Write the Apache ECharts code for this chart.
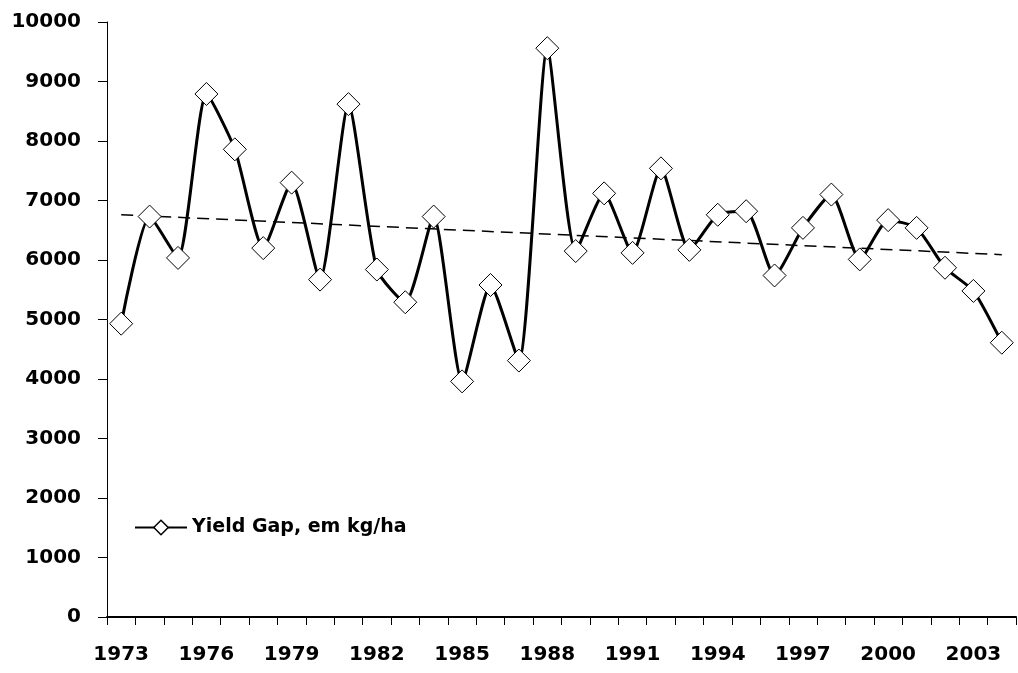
<!DOCTYPE html>
<html>
<head>
<meta charset="utf-8">
<script src="https://cdn.jsdelivr.net/npm/echarts@6/dist/echarts.min.js"></script>
<style>
  html, body { margin: 0; padding: 0; background: #fff; }
  #chart { width: 1018px; height: 673px; }
</style>
</head>
<body>
<div id="chart"></div>
<script>
// Years on the category axis
const years = [
  '1973','1974','1975','1976','1977','1978','1979','1980','1981','1982',
  '1983','1984','1985','1986','1987','1988','1989','1990','1991','1992',
  '1993','1994','1995','1996','1997','1998','1999','2000','2001','2002',
  '2003','2004'
];

// Yield gap, kg/ha
const yieldGap = [
  4930, 6730, 6035, 8790, 7860, 6200, 7300, 5670, 8620, 5840,
  5290, 6730, 3960, 5580, 4310, 9560, 6150, 7120, 6120, 7540,
  6170, 6760, 6820, 5740, 6540, 7100, 6010, 6670, 6540, 5870,
  5480, 4610
];

// Linear trend: values at the first and last year
const trendStart = 6760;
const trendEnd = 6090;

const seriesName = 'Yield Gap, em kg/ha';
const trendData = years.map((_, i) =>
  i === 0 ? trendStart : (i === years.length - 1 ? trendEnd : null));

const font = 'DejaVu Sans';
const chart = echarts.init(document.getElementById('chart'), null, { renderer: 'canvas' });

chart.setOption({
  animation: false,
  backgroundColor: '#ffffff',
  grid: { left: 107, right: 2, top: 22, bottom: 56, containLabel: false },
  legend: {
    data: [{ name: seriesName, itemStyle: { borderWidth: 1.5 } }],
    left: 129,
    top: 513,
    itemWidth: 52,
    itemHeight: 18,
    itemGap: 4,
    textStyle: { fontFamily: font, fontWeight: 'bold', fontSize: 19, color: '#000' }
  },
  xAxis: {
    type: 'category',
    data: years,
    boundaryGap: true,
    axisLine: { lineStyle: { color: '#000', width: 2 } },
    axisTick: { show: true, interval: 0, length: 8, lineStyle: { color: '#000', width: 1 } },
    axisLabel: {
      interval: 2,
      margin: 28,
      color: '#000',
      fontFamily: font,
      fontWeight: 'bold',
      fontSize: 20
    },
    splitLine: { show: false }
  },
  yAxis: {
    type: 'value',
    min: 0,
    max: 10000,
    interval: 1000,
    axisLine: { show: true, lineStyle: { color: '#000', width: 1 } },
    axisTick: { show: true, length: 9, lineStyle: { color: '#000', width: 1 } },
    axisLabel: {
      margin: 26,
      color: '#000',
      fontFamily: font,
      fontWeight: 'bold',
      fontSize: 20,
      formatter: (v) => String(v)
    },
    splitLine: { show: false }
  },
  series: [
    {
      name: 'trend',
      type: 'line',
      data: trendData,
      connectNulls: true,
      showSymbol: false,
      symbol: 'none',
      z: 1,
      lineStyle: { color: '#000', width: 1.5, type: [12, 7] },
      silent: true
    },
    {
      name: seriesName,
      type: 'line',
      data: yieldGap,
      smooth: 0.2,
      symbol: 'diamond',
      symbolSize: [23, 23],
      showAllSymbol: true,
      z: 3,
      lineStyle: { color: '#000', width: 3 },
      itemStyle: { color: '#ffffff', borderColor: '#000', borderWidth: 1 }
    }
  ]
});
</script>
</body>
</html>
